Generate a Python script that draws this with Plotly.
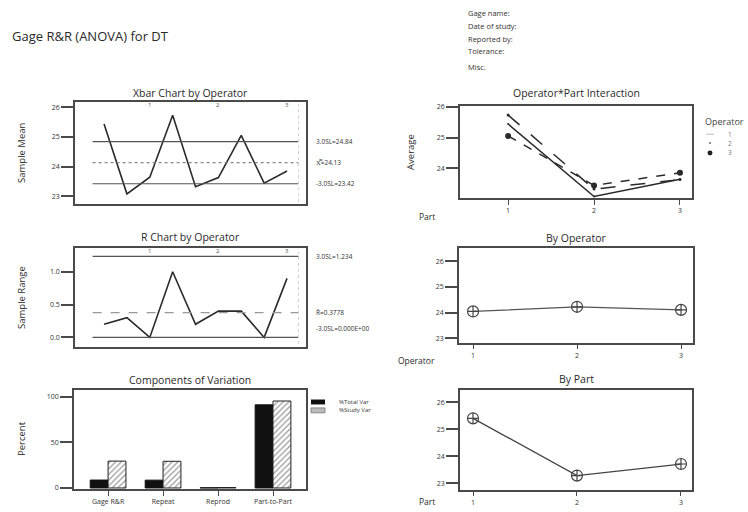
import plotly.graph_objects as go

# ---------------- data ----------------
operators = ["1", "2", "3"]
parts = ["1", "2", "3"]
sample_idx = [1, 2, 3, 4, 5, 6, 7, 8, 9]
xbar_means = [25.44, 23.08, 23.64, 25.73, 23.32, 23.63, 25.05, 23.44, 23.85]
ranges = [0.2, 0.3, 0.0, 1.0, 0.2, 0.4, 0.4, 0.0, 0.9]
xbar_ucl, xbar_cl, xbar_lcl = 24.84, 24.13, 23.42
r_ucl, r_cl, r_lcl = 1.234, 0.3778, 0.0

components = ["Gage R&R", "Repeat", "Reprod", "Part-to-Part"]
pct_total_var = [8.7, 8.6, 0.2, 91.3]
pct_study_var = [29.5, 29.3, 0.5, 95.5]

interaction = {
    "1": [25.44, 23.08, 23.64],
    "2": [25.73, 23.32, 23.63],
    "3": [25.05, 23.44, 23.85],
}
by_operator = [24.05, 24.23, 24.11]
by_part = [25.41, 23.28, 23.71]

W, H = 748, 512
FONT = "Open Sans"
INK = "#2a2a2a"
BOX = "#4a4a4a"


def px(x):
    return x / W


def py(y):
    return 1 - y / H


fig = go.Figure()

# ---------------- Xbar chart ----------------
fig.add_trace(go.Scatter(x=sample_idx, y=xbar_means, mode="lines",
                         line=dict(color=INK, width=1.6), showlegend=False,
                         xaxis="x", yaxis="y"))
for val, dash in [(xbar_ucl, "solid"), (xbar_cl, "dot"), (xbar_lcl, "solid")]:
    fig.add_trace(go.Scatter(x=[0.5, 9.5], y=[val, val], mode="lines",
                             line=dict(color="#555" if dash == "solid" else "#888",
                                       width=1.2, dash=dash),
                             showlegend=False, xaxis="x", yaxis="y", hoverinfo="skip"))

# ---------------- R chart ----------------
fig.add_trace(go.Scatter(x=sample_idx, y=ranges, mode="lines",
                         line=dict(color=INK, width=1.6), showlegend=False,
                         xaxis="x2", yaxis="y2"))
for val, dash in [(r_ucl, "solid"), (r_cl, "dash"), (r_lcl, "solid")]:
    fig.add_trace(go.Scatter(x=[0.5, 9.5], y=[val, val], mode="lines",
                             line=dict(color="#555" if dash == "solid" else "#999",
                                       width=1.2, dash=dash),
                             showlegend=False, xaxis="x2", yaxis="y2", hoverinfo="skip"))

# ---------------- Components of variation ----------------
comp_x = list(range(len(components)))
fig.add_trace(go.Bar(x=comp_x, y=pct_total_var, name="%Total Var",
                     marker=dict(color="#111", line=dict(color="#111", width=1)),
                     xaxis="x3", yaxis="y3", showlegend=False))
fig.add_trace(go.Bar(x=comp_x, y=pct_study_var, name="%Study Var",
                     marker=dict(color="white", line=dict(color="#222", width=1),
                                 pattern=dict(shape="/", fgcolor="#333", bgcolor="white",
                                              size=4, solidity=0.3)),
                     xaxis="x3", yaxis="y3", showlegend=False))

# ---------------- Operator*Part interaction ----------------
part_x = [1, 2, 3]
styles = {
    "1": dict(line=dict(color=INK, width=1.5, dash="solid"), marker=dict(size=2, symbol="circle", color=INK)),
    "2": dict(line=dict(color=INK, width=1.5, dash="longdash"), marker=dict(size=3, symbol="circle", color=INK)),
    "3": dict(line=dict(color=INK, width=1.5, dash="dash"), marker=dict(size=6, symbol="circle", color=INK)),
}
for op in operators:
    fig.add_trace(go.Scatter(x=part_x, y=interaction[op], mode="lines+markers", name=op,
                             line=styles[op]["line"], marker=styles[op]["marker"],
                             xaxis="x4", yaxis="y4", showlegend=False))

# ---------------- By Operator ----------------
fig.add_trace(go.Scatter(x=[1, 2, 3], y=by_operator, mode="lines+markers",
                         line=dict(color="#555", width=1.2),
                         marker=dict(symbol="circle-cross-open", size=11, color="#444",
                                     line=dict(width=1.2)),
                         showlegend=False, xaxis="x5", yaxis="y5"))

# ---------------- By Part ----------------
fig.add_trace(go.Scatter(x=[1, 2, 3], y=by_part, mode="lines+markers",
                         line=dict(color="#444", width=1.3),
                         marker=dict(symbol="circle-cross-open", size=11, color="#444",
                                     line=dict(width=1.2)),
                         showlegend=False, xaxis="x6", yaxis="y6"))

# ---------------- axes ----------------
tickfont = dict(family=FONT, size=7, color="#333")


def yax(domain, rng, tickvals, anchor, ticktext=None):
    d = dict(domain=domain, range=rng, tickvals=tickvals, anchor=anchor, showline=True,
             mirror=True, linecolor=BOX, linewidth=1.5, ticks="outside", ticklen=12,
             tickwidth=1.5, tickcolor=BOX, showgrid=False, zeroline=False,
             tickfont=tickfont, fixedrange=True)
    if ticktext is not None:
        d["ticktext"] = ticktext
    return d


def xax(domain, rng, anchor, tickvals=None, ticktext=None):
    d = dict(domain=domain, range=rng, anchor=anchor, showline=True, mirror=True,
             linecolor=BOX, linewidth=1.5, showgrid=False, zeroline=False,
             tickfont=tickfont, fixedrange=True)
    if tickvals is not None:
        d.update(tickvals=tickvals, ticks="outside", ticklen=5, tickwidth=1.2,
                 tickcolor=BOX, showticklabels=True)
        if ticktext is not None:
            d["ticktext"] = ticktext
    else:
        d.update(showticklabels=False, ticks="")
    return d


left_dom = [px(75), px(306)]
right_dom = [px(460), px(692)]

fig.update_layout(
    xaxis=xax(left_dom, [-0.27, 9.83], "y"),
    yaxis=yax([py(203), py(99)], [22.73, 26.19], [23, 24, 25, 26], "x"),
    xaxis2=xax(left_dom, [-0.27, 9.83], "y2"),
    yaxis2=yax([py(348), py(247.7)], [-0.15, 1.358], [0, 0.5, 1.0], "x2", ["0.0", "0.5", "1.0"]),
    xaxis3=xax([px(74), px(306)], [-0.62, 3.6], "y3", tickvals=comp_x, ticktext=components),
    yaxis3=yax([py(491.7), py(391.7)], [-1.1, 107.2], [0, 50, 100], "x3"),
    xaxis4=xax(right_dom, [0.44, 3.14], "y4", tickvals=part_x, ticktext=parts),
    yaxis4=yax([py(196.7), py(103.3)], [23.03, 26.03], [23, 24, 25, 26], "x4"),
    xaxis5=xax([px(459), px(693)], [0.865, 3.115], "y5", tickvals=[1, 2, 3], ticktext=operators),
    yaxis5=yax([py(343.3), py(247.7)], [22.84, 26.5], [23, 24, 25, 26], "x5"),
    xaxis6=xax(right_dom, [0.875, 3.106], "y6", tickvals=[1, 2, 3], ticktext=parts),
    yaxis6=yax([py(492.3), py(391.7)], [22.76, 26.45], [23, 24, 25, 26], "x6"),
)

fig.update_layout(
    width=W, height=H, margin=dict(l=0, r=0, t=0, b=0),
    paper_bgcolor="white", plot_bgcolor="white",
    font=dict(family=FONT, color=INK),
    barmode="group", bargap=0.35, bargroupgap=0.0,
    showlegend=False,
    hovermode=False,
)

ann = []


def text(x, y, s, size=10, anchor="left", color=INK, xref="paper", yref="paper",
         yanchor="middle", angle=0):
    ann.append(dict(x=x, y=y, text=s, xref=xref, yref=yref, showarrow=False, xanchor=anchor,
                    yanchor=yanchor, textangle=angle,
                    font=dict(family=FONT, size=size, color=color)))


# main title and header block
text(px(10), py(32), "Gage R&R (ANOVA) for DT", size=13)
for s, yy in [("Gage name:", 9), ("Date of study:", 22), ("Reported by:", 35),
              ("Tolerance:", 48), ("Misc.", 64)]:
    text(px(466), py(yy), s, size=7.5, color="#333")

# subplot titles
text(px(190.5), py(90), "Xbar Chart by Operator", size=10.5, anchor="center")
text(px(190.5), py(236), "R Chart by Operator", size=10.5, anchor="center")
text(px(190), py(381), "Components of Variation", size=10.5, anchor="center")
text(px(576), py(90), "Operator*Part Interaction", size=10.5, anchor="center")
text(px(576), py(237), "By Operator", size=10.5, anchor="center")
text(px(576), py(380), "By Part", size=10.5, anchor="center")

# y axis titles
text(px(22), py(151), "Sample Mean", size=9.5, anchor="center", angle=-90)
text(px(22), py(298), "Sample Range", size=9.5, anchor="center", angle=-90)
text(px(22), py(441), "Percent", size=9.5, anchor="center", angle=-90)
text(px(411), py(150), "Average", size=9.5, anchor="center", angle=-90)

# x axis side labels
text(px(437), py(215), "Part", size=8.5, anchor="right")
text(px(437), py(361), "Operator", size=8.5, anchor="right")
text(px(437), py(504), "Part", size=8.5, anchor="right")

# operator labels on top of control charts
for i, op in enumerate(operators):
    text(3 * (i + 1), 26.07, op, size=6, anchor="center", xref="x", yref="y", color="#555")
    text(3 * (i + 1), 1.31, op, size=6, anchor="center", xref="x2", yref="y2", color="#555")

# control limit labels
text(px(314), xbar_ucl, "3.0SL=24.84", size=6.5, yref="y", color="#333")
text(px(314), xbar_cl, "X\u033F=24.13", size=6.5, yref="y", color="#333")
text(px(314), xbar_lcl, "-3.0SL=23.42", size=6.5, yref="y", color="#333")
text(px(314), r_ucl, "3.0SL=1.234", size=6.5, yref="y2", color="#333")
text(px(314), r_cl, "R\u0304=0.3778", size=6.5, yref="y2", color="#333")
text(px(314), 0.13, "-3.0SL=0.000E+00", size=6.5, yref="y2", color="#333")

# manual legend: components of variation
text(px(337), py(403.5), "%Total Var", size=6, color="#333")
text(px(337), py(412), "%Study Var", size=6, color="#333")
# manual legend: interaction
text(px(703), py(119), "Operator", size=9, color="#444")
for op, yy in zip(operators, [132, 141, 151]):
    text(px(726), py(yy), op, size=6.5, color="#777")

fig.update_layout(annotations=ann)

shapes = []
# faint vertical separators at right of control charts
for xr, yr, y0, y1 in [("x", "y", 22.8, 26.1), ("x2", "y2", -0.1, 1.3)]:
    shapes.append(dict(type="line", xref=xr, yref=yr, x0=9.5, x1=9.5, y0=y0, y1=y1,
                       line=dict(color="#cfcfcf", width=1, dash="dot")))
# component legend swatches
shapes.append(dict(type="rect", xref="paper", yref="paper", x0=px(311), x1=px(325),
                   y0=py(406), y1=py(401), fillcolor="#111", line=dict(width=0)))
shapes.append(dict(type="rect", xref="paper", yref="paper", x0=px(311), x1=px(325),
                   y0=py(414.5), y1=py(409.5), fillcolor="#bbb", line=dict(color="#777", width=0.8)))
# interaction legend symbols
shapes.append(dict(type="line", xref="paper", yref="paper", x0=px(706), x1=px(714),
                   y0=py(132), y1=py(132), line=dict(color="#bbb", width=1)))
shapes.append(dict(type="circle", xref="paper", yref="paper", x0=px(709), x1=px(711),
                   y0=py(142), y1=py(140), fillcolor="#666", line=dict(width=0)))
shapes.append(dict(type="circle", xref="paper", yref="paper", x0=px(707.5), x1=px(712.5),
                   y0=py(153.5), y1=py(148.5), fillcolor="#222", line=dict(width=0)))
fig.update_layout(shapes=shapes)

fig.write_html("out.html", config={"displayModeBar": False},
               post_script="document.body.style.margin='0px';")
